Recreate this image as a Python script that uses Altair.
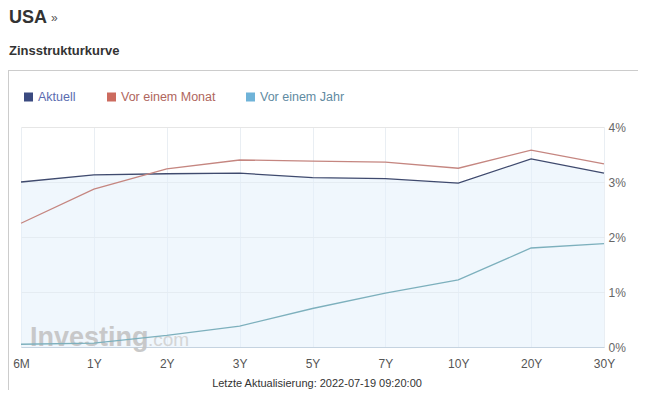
import altair as alt
import pandas as pd

maturities = ["6M", "1Y", "2Y", "3Y", "5Y", "7Y", "10Y", "20Y", "30Y"]
aktuell = [3.00, 3.13, 3.15, 3.16, 3.08, 3.06, 2.98, 3.42, 3.16]
vor_monat = [2.25, 2.87, 3.24, 3.40, 3.38, 3.36, 3.25, 3.58, 3.33]
vor_jahr = [0.05, 0.07, 0.21, 0.38, 0.70, 0.98, 1.22, 1.80, 1.88]
series_names = ["Aktuell", "Vor einem Monat", "Vor einem Jahr"]
line_colors = ["#3f4a6e", "#c58680", "#7db0bd"]
legend_square_colors = ["#3b4a80", "#cc6b5f", "#6fb3d8"]
legend_text_colors = ["#5a6bb0", "#b0665d", "#5f8ba2"]

FONT = "Liberation Sans"

rows = []
for name, vals in zip(series_names, [aktuell, vor_monat, vor_jahr]):
    for m, v in zip(maturities, vals):
        rows.append({"Laufzeit": m, "Rendite": v, "Serie": name})
df = pd.DataFrame(rows)
df_akt = pd.DataFrame({"Laufzeit": maturities, "Rendite": aktuell})

x_enc = alt.X(
    "Laufzeit:N", sort=maturities,
    scale=alt.Scale(type="point", padding=0),
    axis=alt.Axis(title=None, labelAngle=0, ticks=False, grid=True,
                  gridColor="#e9eef3", domainColor="#c5d3e0",
                  labelColor="#555555", labelFontSize=12, labelFont=FONT,
                  labelPadding=11),
)
y_enc = alt.Y(
    "Rendite:Q",
    scale=alt.Scale(domain=[0, 4], nice=False),
    axis=alt.Axis(orient="right", values=[0, 1, 2, 3, 4],
                  labelExpr="datum.value + '%'", title=None, domain=False,
                  ticks=False, gridColor="#e6e6e6", labelColor="#666666",
                  labelFontSize=12, labelFont=FONT, labelPadding=4),
)

area = alt.Chart(df_akt).mark_area(color="#e3f1fb", opacity=0.55).encode(
    x=x_enc, y=y_enc
)

watermark1 = alt.Chart(pd.DataFrame({"t": ["Investing"]})).mark_text(
    font=FONT, fontSize=27, fontWeight="bold", color="#c4c4c4", align="left",
    baseline="alphabetic", opacity=0.9
).encode(x=alt.value(9), y=alt.value(219), text="t:N")
watermark2 = alt.Chart(pd.DataFrame({"t": [".com"]})).mark_text(
    font=FONT, fontSize=19, color="#d2d2d2", align="left",
    baseline="alphabetic", opacity=0.9
).encode(x=alt.value(127), y=alt.value(219), text="t:N")

lines = alt.Chart(df).mark_line(strokeWidth=1.3).encode(
    x=x_enc, y=y_enc,
    color=alt.Color("Serie:N", scale=alt.Scale(domain=series_names, range=line_colors),
                    legend=None),
    order=alt.Order("Serie:N", sort="descending"),
)

layers = [area, watermark1, watermark2, lines]

# Header texts (coordinates relative to plot area origin)
layers.append(alt.Chart(pd.DataFrame({"t": ["USA"]})).mark_text(
    font=FONT, fontSize=18, fontWeight="bold", color="#333333", align="left",
    baseline="alphabetic").encode(x=alt.value(-12), y=alt.value(-104), text="t:N"))
layers.append(alt.Chart(pd.DataFrame({"t": ["»"]})).mark_text(
    font=FONT, fontSize=12, color="#555555", align="left",
    baseline="alphabetic").encode(x=alt.value(30), y=alt.value(-105), text="t:N"))
layers.append(alt.Chart(pd.DataFrame({"t": ["Zinsstrukturkurve"]})).mark_text(
    font=FONT, fontSize=13, fontWeight="bold", color="#333333", align="left",
    baseline="alphabetic").encode(x=alt.value(-12), y=alt.value(-72), text="t:N"))

# Box border
layers.append(alt.Chart(pd.DataFrame({"a": [0]})).mark_rule(color="#cccccc", strokeWidth=1).encode(
    x=alt.value(-13), x2=alt.value(640), y=alt.value(-56.5)))
layers.append(alt.Chart(pd.DataFrame({"a": [0]})).mark_rule(color="#cccccc", strokeWidth=1).encode(
    x=alt.value(-12.5), y=alt.value(-57), y2=alt.value(300)))

# Legend
legend_x = [3, 86, 225]
for i, name in enumerate(series_names):
    layers.append(alt.Chart(pd.DataFrame({"a": [0]})).mark_square(
        size=81, color=legend_square_colors[i], opacity=1).encode(
        x=alt.value(legend_x[i] + 4.5), y=alt.value(-30)))
    layers.append(alt.Chart(pd.DataFrame({"t": [name]})).mark_text(
        font=FONT, fontSize=12.5, color=legend_text_colors[i], align="left",
        baseline="middle").encode(x=alt.value(legend_x[i] + 14), y=alt.value(-30), text="t:N"))

# Footer
layers.append(alt.Chart(pd.DataFrame({"t": ["Letzte Aktualisierung: 2022-07-19 09:20:00"]})).mark_text(
    font=FONT, fontSize=11, color="#333333", align="center",
    baseline="middle").encode(x=alt.value(296), y=alt.value(257), text="t:N"))

chart = alt.layer(*layers).properties(
    width=583, height=220,
    autosize=alt.AutoSizeParams(type="none"),
    padding={"left": 13, "top": 119, "right": 34, "bottom": 43},
    background="white",
).configure_view(stroke=None)

chart.save("out.html", embed_options={"renderer": "svg", "actions": False})
